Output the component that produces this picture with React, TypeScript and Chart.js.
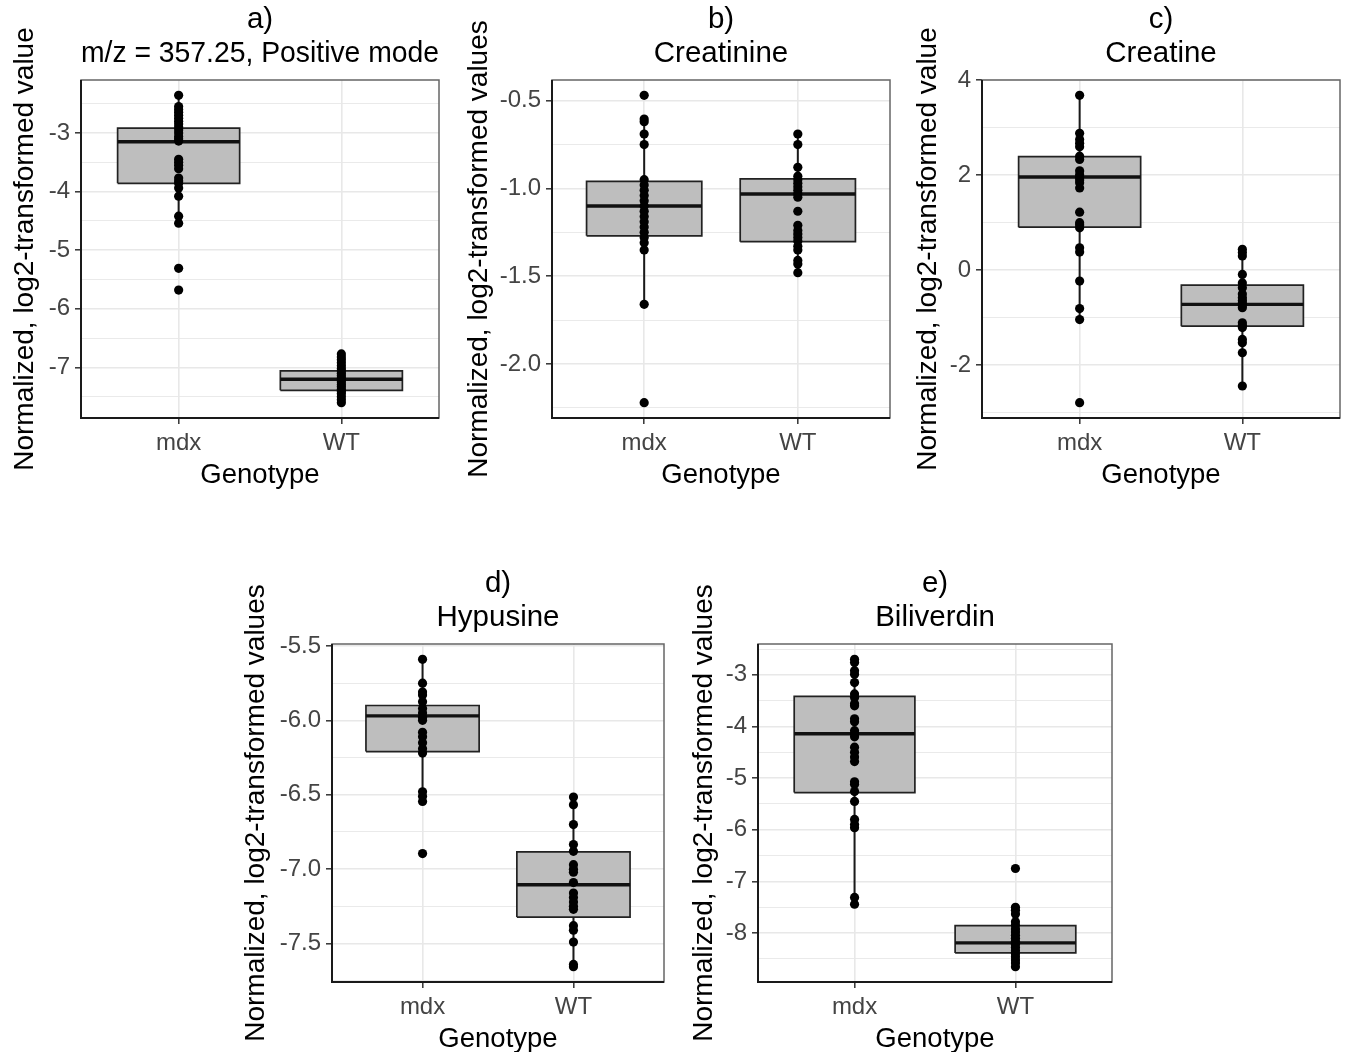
import React, { useEffect, useRef } from 'react';
import { Chart, registerables } from 'chart.js';

Chart.register(...registerables);

// ---------- data ----------
const GROUPS = ['mdx', 'WT'];

// stats arrays: [lower whisker, Q1, median, Q3, upper whisker]
const A_MDX = [-2.36, -2.55, -2.6, -2.65, -2.7, -2.75, -2.8, -2.85, -2.9, -2.95, -3.0, -3.06, -3.1, -3.14, -3.45, -3.5, -3.55, -3.61, -3.77, -3.82, -3.86, -3.94, -4.08, -4.42, -4.54, -5.31, -5.68];
const A_WT = [-6.77, -6.82, -6.87, -6.92, -6.97, -7.02, -7.06, -7.1, -7.14, -7.18, -7.21, -7.25, -7.29, -7.33, -7.37, -7.41, -7.45, -7.5, -7.55, -7.6];
const A_STATS_MDX = [-4.54, -3.86, -3.15, -2.92, -2.36];
const A_STATS_WT = [-7.6, -7.39, -7.2, -7.06, -6.77];

const B_MDX = [-0.47, -0.605, -0.62, -0.69, -0.75, -0.95, -0.98, -1.01, -1.04, -1.07, -1.1, -1.13, -1.16, -1.19, -1.22, -1.25, -1.28, -1.31, -1.35, -1.66, -2.22];
const B_WT = [-0.69, -0.75, -0.88, -0.93, -0.95, -0.97, -0.99, -1.01, -1.03, -1.05, -1.13, -1.21, -1.24, -1.26, -1.28, -1.3, -1.33, -1.35, -1.41, -1.43, -1.48];
const B_STATS_MDX = [-1.66, -1.27, -1.1, -0.96, -0.605];
const B_STATS_WT = [-1.48, -1.303, -1.032, -0.946, -0.69];

const C_MDX = [3.68, 2.88, 2.75, 2.67, 2.6, 2.4, 2.33, 2.09, 2.01, 1.95, 1.9, 1.84, 1.73, 1.22, 1.0, 0.95, 0.89, 0.47, 0.38, -0.23, -0.81, -1.04, -2.79];
const C_WT = [0.44, 0.37, 0.3, -0.09, -0.27, -0.37, -0.5, -0.58, -0.64, -0.69, -0.74, -0.79, -1.11, -1.16, -1.21, -1.46, -1.53, -1.74, -2.44];
const C_STATS_MDX = [-1.04, 0.905, 1.96, 2.39, 3.68];
const C_STATS_WT = [-2.44, -1.18, -0.72, -0.315, 0.44];

const D_MDX = [-5.59, -5.75, -5.81, -5.83, -5.875, -5.92, -5.95, -5.98, -6.0, -6.08, -6.11, -6.15, -6.19, -6.22, -6.48, -6.51, -6.545, -6.895];
const D_WT = [-6.515, -6.567, -6.7, -6.835, -6.88, -6.97, -7.0, -7.02, -7.09, -7.16, -7.19, -7.22, -7.25, -7.27, -7.38, -7.41, -7.49, -7.64, -7.655];
const D_STATS_MDX = [-6.545, -6.21, -5.97, -5.9, -5.59];
const D_STATS_WT = [-7.655, -7.322, -7.105, -6.884, -6.515];

const E_MDX = [-2.7, -2.76, -2.92, -2.99, -3.15, -3.37, -3.44, -3.56, -3.6, -3.85, -3.91, -4.08, -4.14, -4.2, -4.4, -4.5, -4.59, -4.68, -5.07, -5.12, -5.26, -5.45, -5.8, -5.9, -5.96, -7.31, -7.44];
const E_WT = [-6.75, -7.5, -7.56, -7.63, -7.78, -7.85, -7.92, -7.98, -8.04, -8.1, -8.16, -8.22, -8.28, -8.34, -8.4, -8.46, -8.52, -8.58, -8.65];
const E_STATS_MDX = [-7.44, -5.28, -4.14, -3.416, -2.7];
const E_STATS_WT = [-8.65, -8.384, -8.19, -7.854, -7.5];

const TITLES = [
  ['a)', 'm/z = 357.25, Positive mode'],
  ['b)', 'Creatinine'],
  ['c)', 'Creatine'],
  ['d)', 'Hypusine'],
  ['e)', 'Biliverdin'],
];
const Y_TITLES = [
  'Normalized, log2-transformed value',
  'Normalized, log2-transformed values',
  'Normalized, log2-transformed value',
  'Normalized, log2-transformed values',
  'Normalized, log2-transformed values',
];
const X_TITLE = 'Genotype';
// [major step, minor step, decimals]
const Y_TICK_STEPS = [
  [1, 0.5, 0],
  [0.5, 0.25, 1],
  [2, 1, 0],
  [0.5, 0.25, 1],
  [1, 0.5, 0],
];

// ---------- layout ----------
const FONT = "'Liberation Sans', Arial, Helvetica, sans-serif";
const TITLE_H = 80;
const PLOT_H = 338;
const X_H = 78;
const RIGHT_PAD = 6;
// [plotLeft, plotTop, plotWidth, yAxisWidth]
const LAYOUT = [
  [81, 80, 358, 77],
  [552, 80, 338, 94],
  [982, 80, 358, 75],
  [331.5, 644, 332, 97],
  [757.5, 644, 354, 75],
];

const PANEL_DATA = [
  [A_MDX, A_WT, A_STATS_MDX, A_STATS_WT],
  [B_MDX, B_WT, B_STATS_MDX, B_STATS_WT],
  [C_MDX, C_WT, C_STATS_MDX, C_STATS_WT],
  [D_MDX, D_WT, D_STATS_MDX, D_STATS_WT],
  [E_MDX, E_WT, E_STATS_MDX, E_STATS_WT],
];

const BOX_FILL = '#bebebe';
const GRID = '#e8e8e8';

function boxDatasets(center: number, stats: number[], pts: number[]) {
  const [lo, q1, med, q3, hi] = stats;
  const hw = 0.375;
  const l = center - hw;
  const r = center + hw;
  return [
    {
      type: 'scatter',
      data: pts.map((v) => ({ x: center, y: v })),
      pointRadius: 4.6,
      pointBackgroundColor: '#000',
      pointBorderColor: '#000',
      pointBorderWidth: 0,
      order: 0,
    },
    {
      type: 'scatter',
      showLine: true,
      data: [{ x: center, y: q3 }, { x: center, y: hi }],
      borderColor: '#1a1a1a',
      borderWidth: 2,
      pointRadius: 0,
      order: 1,
    },
    {
      type: 'scatter',
      showLine: true,
      data: [{ x: center, y: q1 }, { x: center, y: lo }],
      borderColor: '#1a1a1a',
      borderWidth: 2,
      pointRadius: 0,
      order: 1,
    },
    {
      type: 'scatter',
      showLine: true,
      data: [{ x: l, y: med }, { x: r, y: med }],
      borderColor: '#111',
      borderWidth: 3.4,
      pointRadius: 0,
      order: 2,
    },
    {
      type: 'scatter',
      showLine: true,
      data: [
        { x: l, y: q1 },
        { x: r, y: q1 },
        { x: r, y: q3 },
        { x: l, y: q3 },
        { x: l, y: q1 },
      ],
      borderColor: '#222',
      borderWidth: 1.7,
      pointRadius: 0,
      order: 3,
    },
    {
      type: 'line',
      data: [{ x: l, y: q3 }, { x: r, y: q3 }],
      fill: { value: q1 },
      backgroundColor: BOX_FILL,
      borderWidth: 0,
      borderColor: 'rgba(0,0,0,0)',
      pointRadius: 0,
      order: 4,
    },
  ];
}

const panelBorder = {
  id: 'panelBorder',
  afterDraw(chart: any) {
    const { ctx, chartArea: a } = chart;
    ctx.save();
    ctx.strokeStyle = '#666';
    ctx.lineWidth = 1.5;
    ctx.strokeRect(a.left, a.top, a.right - a.left, a.bottom - a.top);
    ctx.strokeStyle = '#1a1a1a';
    ctx.lineWidth = 2;
    ctx.beginPath();
    ctx.moveTo(a.left, a.top);
    ctx.lineTo(a.left, a.bottom);
    ctx.lineTo(a.right, a.bottom);
    ctx.stroke();
    ctx.restore();
  },
};

function makeConfig(i: number): any {
  const [mdx, wt, sMdx, sWt] = PANEL_DATA[i];
  const [major, minor, dec] = Y_TICK_STEPS[i];
  const all = [...mdx, ...wt];
  const dmin = Math.min(...all);
  const dmax = Math.max(...all);
  const pad = (dmax - dmin) * 0.05;
  const ymin = dmin - pad;
  const ymax = dmax + pad;
  const isMajor = (v: number) => Math.abs(v / major - Math.round(v / major)) < 1e-6;
  const yW = LAYOUT[i][3];

  return {
    type: 'scatter',
    data: {
      datasets: [...boxDatasets(1, sMdx, mdx), ...boxDatasets(2, sWt, wt)],
    },
    plugins: [panelBorder],
    options: {
      responsive: true,
      maintainAspectRatio: false,
      animation: false,
      events: [],
      layout: { padding: { left: 0, top: 0, right: RIGHT_PAD, bottom: 0 } },
      plugins: {
        legend: { display: false },
        tooltip: { enabled: false },
        title: {
          display: true,
          text: TITLES[i],
          color: '#000',
          fullSize: false,
          font: { family: FONT, size: 29.5, weight: 'normal', lineHeight: 1.15 },
          padding: { top: 3, bottom: 9.15 },
        },
      },
      scales: {
        x: {
          type: 'linear',
          min: 0.4,
          max: 2.6,
          afterBuildTicks: (s: any) => {
            s.ticks = [{ value: 1 }, { value: 2 }];
          },
          afterFit: (s: any) => {
            s.height = X_H;
          },
          ticks: {
            autoSkip: false,
            maxRotation: 0,
            padding: 5,
            color: '#444',
            font: { family: FONT, size: 24 },
            callback: (v: number) => GROUPS[Math.round(v) - 1] ?? '',
          },
          grid: {
            color: GRID,
            lineWidth: 1.6,
            tickColor: '#333',
            tickLength: 6,
            tickWidth: 1.5,
          },
          border: { display: false },
          title: {
            display: true,
            text: X_TITLE,
            color: '#000',
            font: { family: FONT, size: 27.5, lineHeight: 1.2 },
            padding: { top: 0, bottom: 4 },
          },
        },
        y: {
          type: 'linear',
          min: ymin,
          max: ymax,
          afterBuildTicks: (s: any) => {
            const out: any[] = [];
            const start = Math.ceil(ymin / minor - 1e-9);
            for (let k = start; k * minor <= ymax + 1e-9; k++) {
              out.push({ value: Math.round(k * minor * 10000) / 10000 });
            }
            s.ticks = out;
          },
          afterFit: (s: any) => {
            s.width = yW;
          },
          ticks: {
            autoSkip: false,
            padding: 5,
            color: '#444',
            font: { family: FONT, size: 24 },
            callback: (v: number) => (isMajor(v) ? (Math.abs(v) < 1e-9 ? 0 : v).toFixed(dec) : ''),
          },
          grid: {
            color: GRID,
            lineWidth: (c: any) => (c.tick && isMajor(c.tick.value) ? 1.6 : 0.9),
            tickColor: (c: any) => (c.tick && isMajor(c.tick.value) ? '#333' : 'rgba(0,0,0,0)'),
            tickLength: 6,
            tickWidth: 1.5,
          },
          border: { display: false },
          title: {
            display: true,
            text: Y_TITLES[i],
            color: '#000',
            font: { family: FONT, size: 28, lineHeight: 1.2 },
            padding: { top: 4, bottom: 0 },
          },
        },
      },
    },
  };
}

function Panel({ index }: { index: number }) {
  const ref = useRef<HTMLCanvasElement | null>(null);
  useEffect(() => {
    const chart = new Chart(ref.current as HTMLCanvasElement, makeConfig(index));
    return () => chart.destroy();
  }, [index]);
  const [plotLeft, plotTop, plotW, yW] = LAYOUT[index];
  return (
    <div
      style={{
        position: 'absolute',
        left: plotLeft - yW,
        top: plotTop - TITLE_H,
        width: yW + plotW + RIGHT_PAD,
        height: TITLE_H + PLOT_H + X_H,
      }}
    >
      <canvas ref={ref} />
    </div>
  );
}

export default function App() {
  return (
    <div
      style={{
        position: 'absolute',
        left: 0,
        top: 0,
        width: 1347,
        height: 1052,
        background: '#fff',
        overflow: 'hidden',
      }}
    >
      {TITLES.map((_, i) => (
        <Panel key={i} index={i} />
      ))}
    </div>
  );
}
